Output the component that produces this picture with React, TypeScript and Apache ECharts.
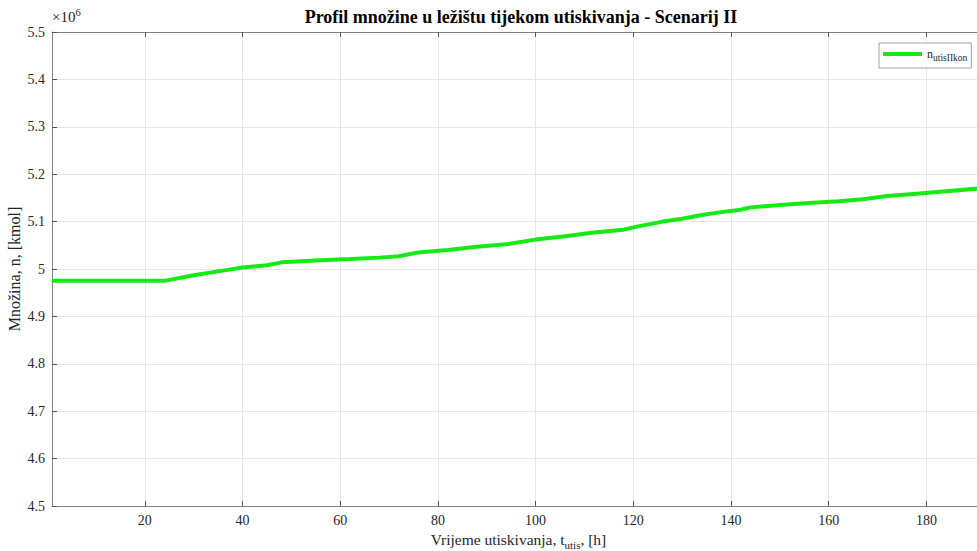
import React, { useEffect, useRef } from "react";
import * as echarts from "echarts";

const timeH = [1, 24, 30, 35, 40, 45, 48, 55, 62, 68, 72, 76, 82, 88, 94, 100, 106, 112, 118, 121, 126, 130, 134, 138, 142, 144, 150, 156, 162, 167, 172, 178, 184, 192];
const amountKmol = [4.975e6, 4.975e6, 4.987e6, 4.995e6, 5.003e6, 5.008e6, 5.014e6, 5.018e6, 5.021e6, 5.024e6, 5.027e6, 5.035e6, 5.04e6, 5.047e6, 5.052e6, 5.062e6, 5.069e6, 5.077e6, 5.083e6, 5.09e6, 5.1e6, 5.106e6, 5.114e6, 5.12e6, 5.125e6, 5.13e6, 5.135e6, 5.139e6, 5.143e6, 5.147e6, 5.154e6, 5.159e6, 5.164e6, 5.171e6];
const xTicks = [20, 40, 60, 80, 100, 120, 140, 160, 180];

const FONT = "'Liberation Serif', 'Times New Roman', serif";
const TXT = "#262626";
const AXIS = "#808080";

export default function App() {
  const ref = useRef<HTMLDivElement>(null);
  useEffect(() => {
    if (!ref.current) return;
    const chart = echarts.init(ref.current, undefined, { renderer: "svg" });
    const data = timeH.map((t, i) => [t, amountKmol[i]]);
    chart.setOption({
      animation: false,
      backgroundColor: "#ffffff",
      textStyle: { fontFamily: FONT, color: TXT },
      title: {
        text: "Profil množine u ležištu tijekom utiskivanja - Scenarij II",
        left: 516,
        textAlign: "center",
        top: 3,
        textStyle: { fontFamily: FONT, fontSize: 18, fontWeight: "bold", color: "#000" },
      },
      grid: { left: 52, right: 5, top: 32, bottom: 45, containLabel: false, outerBoundsMode: "none" },
      legend: {
        left: 879,
        top: 43,
        orient: "vertical",
        icon: "rect",
        itemWidth: 39,
        itemHeight: 4,
        itemGap: 0,
        padding: [5, 4, 5, 4],
        borderColor: "#a0a0a0",
        borderWidth: 1,
        backgroundColor: "#ffffff",
        formatter: () => "{n|n}{s|utisIIkon}",
        textStyle: {
          fontFamily: FONT,
          color: TXT,
          rich: {
            n: { fontFamily: FONT, fontSize: 12, color: TXT },
            s: { fontFamily: FONT, fontSize: 9.5, color: TXT, padding: [8, 0, 0, 0] },
          },
        },
        data: ["n_utisIIkon"],
      },
      xAxis: [
        {
          type: "value",
          min: 1,
          max: 192,
          axisLine: { show: true, lineStyle: { color: AXIS, width: 1 } },
          axisTick: { show: true, inside: true, length: 5, lineStyle: { color: "#555" }, customValues: xTicks },
          axisLabel: { customValues: xTicks, fontFamily: FONT, fontSize: 14, color: TXT, margin: 7 },
          splitLine: { show: true, lineStyle: { color: "#e6e6e6", width: 1 } },
          name: "Vrijeme utiskivanja, {n|t}{s|utis}, [h]",
          nameLocation: "middle",
          nameGap: 16,
          nameTextStyle: {
            fontFamily: FONT,
            fontSize: 15.5,
            color: TXT,
            rich: {
              n: { fontFamily: FONT, fontSize: 15.5, color: TXT },
              s: { fontFamily: FONT, fontSize: 11, color: TXT, padding: [10, 0, 0, 0] },
            },
          },
        },
        {
          type: "value",
          position: "top",
          min: 1,
          max: 192,
          axisLine: { show: true, lineStyle: { color: AXIS, width: 1 } },
          axisTick: { show: true, inside: true, length: 5, lineStyle: { color: "#555" }, customValues: xTicks },
          axisLabel: { show: false, customValues: xTicks },
          splitLine: { show: false },
        },
      ],
      yAxis: [
        {
          type: "value",
          min: 4.5e6,
          max: 5.5e6,
          interval: 1e5,
          axisLine: { show: true, lineStyle: { color: AXIS, width: 1 } },
          axisTick: { show: true, inside: true, length: 5, lineStyle: { color: "#555" } },
          axisLabel: {
            fontFamily: FONT,
            fontSize: 14,
            color: TXT,
            margin: 7,
            formatter: (v: number) => String(Math.round(v / 1e4) / 100),
          },
          splitLine: { show: true, lineStyle: { color: "#e6e6e6", width: 1 } },
        },
      ],
      graphic: [
        {
          type: "text",
          left: 52,
          top: 7,
          style: {
            text: "×10{e|6}",
            fontSize: 15,
            fontFamily: FONT,
            fill: TXT,
            rich: { e: { fontFamily: FONT, fontSize: 10.5, fill: TXT, padding: [0, 0, 9, 0] } },
          },
        },
        {
          type: "text",
          x: 14,
          y: 269,
          rotation: Math.PI / 2,
          style: {
            text: "Množina, n, [kmol]",
            fontSize: 16,
            fontFamily: FONT,
            fill: TXT,
            align: "center",
            verticalAlign: "middle",
          },
        },
      ],
      series: [
        {
          name: "n_utisIIkon",
          type: "line",
          data,
          showSymbol: false,
          symbol: "none",
          lineStyle: { color: "#14eb14", width: 4 },
          itemStyle: { color: "#14eb14" },
          xAxisIndex: 0,
          yAxisIndex: 0,
        },
      ],
    });
    return () => chart.dispose();
  }, []);
  return (
    <div style={{ position: "fixed", left: 0, top: 0, width: 977, height: 551, overflow: "hidden", background: "#fff" }}>
      <div ref={ref} style={{ width: 990, height: 551 }} />
    </div>
  );
}
